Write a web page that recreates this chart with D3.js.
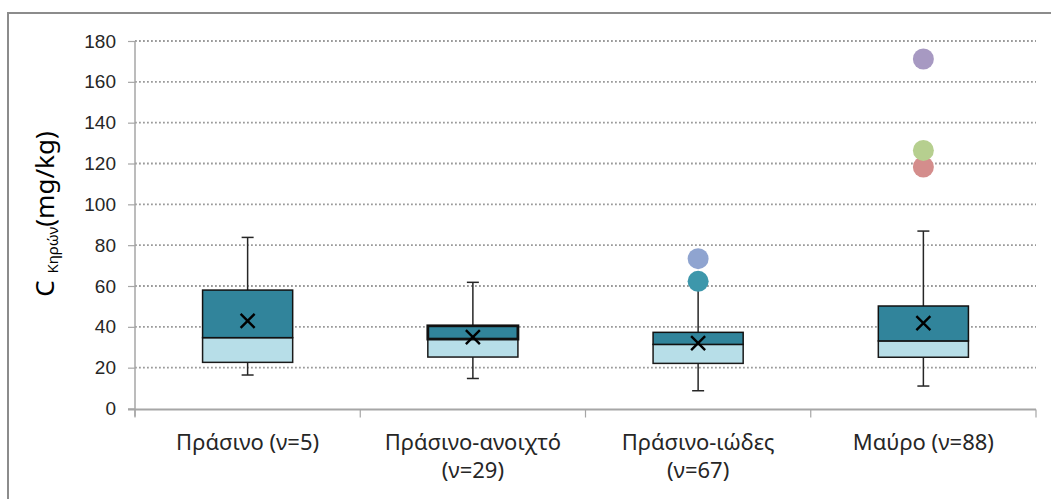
<!DOCTYPE html>
<html>
<head>
<meta charset="utf-8">
<script src="https://cdn.jsdelivr.net/npm/d3@7"></script>
<style>
  html, body { margin: 0; padding: 0; background: #fff; }
  svg { display: block; }
</style>
</head>
<body>
<svg id="chart" width="1051" height="499"></svg>
<script>
// ---- data ----
const categories = ["Πράσινο (ν=5)", "Πράσινο-ανοιχτό (ν=29)", "Πράσινο-ιώδες (ν=67)", "Μαύρο (ν=88)"];
const labelLines = [["Πράσινο (ν=5)"], ["Πράσινο-ανοιχτό", "(ν=29)"], ["Πράσινο-ιώδες", "(ν=67)"], ["Μαύρο (ν=88)"]];
const whiskerLow = [16.4, 14.7, 8.7, 11.0];
const q1 = [22.6, 25.2, 22.1, 25.1];
const median = [34.7, 34.0, 31.4, 33.1];
const q3 = [58.0, 40.5, 37.3, 50.2];
const whiskerHigh = [83.8, 61.8, 61.5, 86.9];
const means = [42.9, 35.0, 32.0, 41.8];
const outlierCategory = [2, 2, 3, 3, 3];
const outlierValues = [62.3, 73.4, 118.3, 126.4, 171.2];
const outlierColors = ["#3D97AB", "#8FA4D0", "#D48D8C", "#B6CF8F", "#A799C2"];
const yTicks = [0, 20, 40, 60, 80, 100, 120, 140, 160, 180];

(function () {
// ---- layout ----
const svg = d3.select("#chart");
const pL = 135, pR = 1036, pT = 41, pB = 408.5;

const x = d3.scaleBand().domain(categories).range([pL, pR]).padding(0);
const y = d3.scaleLinear().domain([0, 180]).range([pB, pT]);

// chart border
svg.append("rect")
  .attr("x", 8).attr("y", 13).attr("width", 1100).attr("height", 600)
  .attr("fill", "none").attr("stroke", "#8c8c8c").attr("stroke-width", 2);

// gridlines
svg.append("g").selectAll("line").data(yTicks.filter(d => d > 0)).join("line")
  .attr("x1", pL).attr("x2", pR)
  .attr("y1", d => y(d)).attr("y2", d => y(d))
  .attr("stroke", "#9a9a9a").attr("stroke-width", 1.8)
  .attr("stroke-dasharray", "1.8,2.2");

// y axis
const yAxis = d3.axisLeft(y).tickValues(yTicks).tickSize(7).tickPadding(12);
const gy = svg.append("g").attr("transform", `translate(${pL},0)`).call(yAxis);
gy.select(".domain").attr("stroke", "#a6a6a6").attr("stroke-width", 1.5)
  .attr("d", `M0,${pT}V${pB + 8}`);
gy.selectAll(".tick line").attr("stroke", "#a6a6a6").attr("stroke-width", 1.2);
gy.selectAll(".tick text")
  .attr("font-family", "'Liberation Sans', Arial, sans-serif")
  .attr("font-size", 19).attr("fill", "#262626");

// x axis
const xAxis = d3.axisBottom(x).tickSize(0).tickFormat("");
const gx = svg.append("g").attr("transform", `translate(0,${pB + 1})`).call(xAxis);
gx.select(".domain").attr("stroke", "#a6a6a6").attr("stroke-width", 2)
  .attr("d", `M${pL - 7},0H${pR}`);
const bounds = categories.map(c => x(c)).concat([pR]);
gx.append("g").selectAll("line").data(bounds).join("line")
  .attr("x1", d => d).attr("x2", d => d).attr("y1", 0).attr("y2", 8)
  .attr("stroke", "#a6a6a6").attr("stroke-width", 1.2);

// category labels
const lab = svg.append("g")
  .attr("font-family", "'Noto Sans', 'Open Sans', sans-serif")
  .attr("font-size", 22).attr("fill", "#262626").attr("text-anchor", "middle");
categories.forEach((c, i) => {
  const t = lab.append("text").attr("x", x(c) + x.bandwidth() / 2).attr("y", 450);
  labelLines[i].forEach((ln, j) => {
    t.append("tspan").attr("x", x(c) + x.bandwidth() / 2).attr("dy", j === 0 ? 0 : 28).text(ln);
  });
});

// boxes
const bw = x.bandwidth() * 0.4;
const cx = i => x(categories[i]) + x.bandwidth() / 2;
const boxes = svg.append("g");
categories.forEach((c, i) => {
  const g = boxes.append("g");
  g.append("line").attr("x1", cx(i)).attr("x2", cx(i))
    .attr("y1", y(q3[i])).attr("y2", y(whiskerHigh[i]))
    .attr("stroke", "#262626").attr("stroke-width", 1.5);
  g.append("line").attr("x1", cx(i)).attr("x2", cx(i))
    .attr("y1", y(q1[i])).attr("y2", y(whiskerLow[i]))
    .attr("stroke", "#262626").attr("stroke-width", 1.5);
  [whiskerHigh[i], whiskerLow[i]].forEach(v => {
    g.append("line").attr("x1", cx(i) - 6).attr("x2", cx(i) + 6)
      .attr("y1", y(v)).attr("y2", y(v))
      .attr("stroke", "#262626").attr("stroke-width", 1.5);
  });
  g.append("rect").attr("x", cx(i) - bw / 2).attr("width", bw)
    .attr("y", y(median[i])).attr("height", y(q1[i]) - y(median[i]))
    .attr("fill", "#B7DEE8").attr("stroke", "#1a1a1a").attr("stroke-width", 1.5);
  g.append("rect").attr("x", cx(i) - bw / 2).attr("width", bw)
    .attr("y", y(q3[i])).attr("height", y(median[i]) - y(q3[i]))
    .attr("fill", "#31849B").attr("stroke", "#111").attr("stroke-width", i === 1 ? 2.8 : 1.5);
  const m = 7, my = y(means[i]);
  g.append("path")
    .attr("d", `M${cx(i) - m},${my - m}L${cx(i) + m},${my + m}M${cx(i) - m},${my + m}L${cx(i) + m},${my - m}`)
    .attr("stroke", "#000").attr("stroke-width", 2.4).attr("fill", "none");
});

// outliers
svg.append("g").selectAll("circle").data(outlierValues).join("circle")
  .attr("cx", (d, k) => cx(outlierCategory[k]))
  .attr("cy", d => y(d))
  .attr("r", 10.5)
  .attr("fill", (d, k) => outlierColors[k]);

// y axis title
const yt = svg.append("text")
  .attr("transform", "translate(54,214) rotate(-90)")
  .attr("text-anchor", "middle")
  .attr("font-family", "'Noto Sans', 'Open Sans', sans-serif")
  .attr("fill", "#000");
yt.append("tspan").attr("font-size", 26).text("C ");
yt.append("tspan").attr("font-size", 15).attr("dy", 4).text("Κηρών");
yt.append("tspan").attr("font-size", 26).attr("dy", -4).text("(mg/kg)");
})();
</script>
</body>
</html>
